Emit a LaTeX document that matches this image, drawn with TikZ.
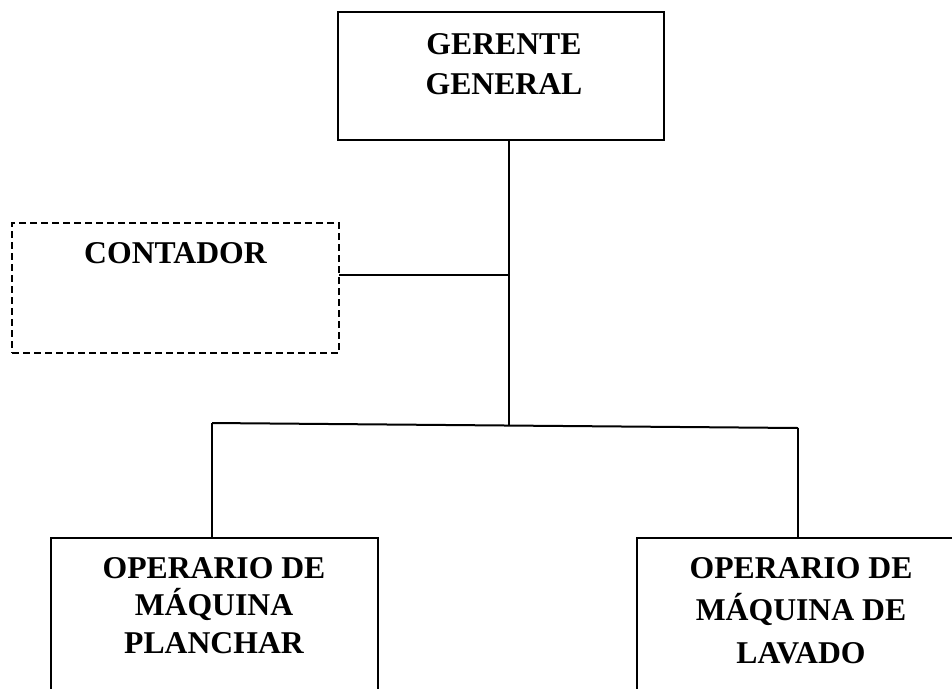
\documentclass[tikz,border=0pt]{standalone}
\usepackage{fontspec}
\setmainfont{Liberation Serif}
\begin{document}
\begin{tikzpicture}[x=1pt,y=-1pt,
  box/.style={draw,line width=2.2pt,inner sep=0pt,outer sep=0pt},
  dbox/.style={draw,line width=1.7pt,dash pattern=on 7pt off 4pt,inner sep=0pt,outer sep=0pt},
  lbl/.style={align=center,inner sep=0pt,anchor=north,font=\bfseries\fontsize{31.7}{#1}\selectfont},
  link/.style={line width=2pt}]
\clip (0,0) rectangle (952,688);
\fill[white] (0,0) rectangle (952,688);
% boxes
\node[box,minimum width=326pt,minimum height=128pt] (gg) at (501,76) {};
\node[dbox,minimum width=327pt,minimum height=130pt] (ct) at (175.5,288) {};
\node[box,minimum width=327pt,minimum height=200pt] (op1) at (214.5,638) {};
\node[box,minimum width=327pt,minimum height=200pt] (op2) at (800.5,638) {};
% texts
\node[lbl=40] (ggt) at (504,33) {GERENTE\\GENERAL};
\node[lbl=38] (ctt) at (175.5,242) {CONTADOR};
\node[lbl=37.5] (op1t) at (214,557) {OPERARIO DE\\MÁQUINA\\PLANCHAR};
\node[lbl=42.5] (op2t) at (801,557) {OPERARIO DE\\MÁQUINA DE\\LAVADO};
% junctions
\coordinate (jl) at (212,423);
\coordinate (jr) at (798,428);
\coordinate (jm) at (509,425.5);
\coordinate (jc) at (509,275);
% connectors
\draw[link] (jm |- gg.south) -- (jm);
\draw[link] (ct.east |- jc) -- (jc);
\draw[link] (jl) -- (jr);
\draw[link] (jl) -- (jl |- op1.north);
\draw[link] (jr) -- (jr |- op2.north);
\end{tikzpicture}
\end{document}
